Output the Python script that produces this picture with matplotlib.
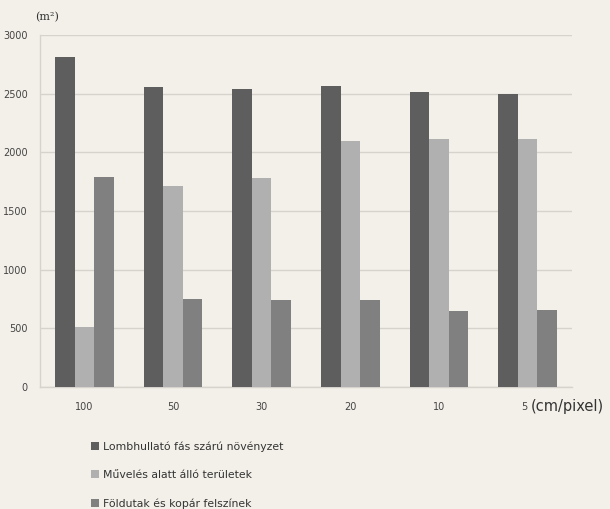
import matplotlib
matplotlib.use("Agg")
import matplotlib.pyplot as plt
import numpy as np
from matplotlib.patches import Patch

categories = ["100", "50", "30", "20", "10", "5"]
series_names = ["Lombhullató fás szárú növényzet",
                "Művelés alatt álló területek",
                "Földutak és kopár felszínek"]
lombhullato = [2810, 2560, 2540, 2565, 2510, 2500]
muveles = [510, 1710, 1780, 2100, 2110, 2110]
foldutak = [1790, 748, 740, 742, 645, 652]
yticks = [0, 500, 1000, 1500, 2000, 2500, 3000]

colors = ["#5e5e5e", "#b0b0b0", "#808080"]
bg = "#f3f0e9"

fig = plt.figure(figsize=(6.10, 5.09), dpi=100, facecolor=bg)
ax = fig.add_axes([40/610, 1-387/509, (572-40)/610, (387-35)/509], facecolor=bg)

x = np.arange(len(categories))
w = 0.22
for i, (vals, c) in enumerate(zip([lombhullato, muveles, foldutak], colors)):
    ax.bar(x + (i-1)*w, vals, width=w, color=c, zorder=3, linewidth=0)

ax.set_xlim(-0.5, len(categories)-0.5)
ax.set_ylim(0, 3000)
ax.set_yticks(yticks)
ax.set_yticklabels([str(v) for v in yticks])
ax.set_xticks(x)
ax.set_xticklabels(categories)
ax.tick_params(axis="both", length=0, labelsize=7, labelcolor="#444444", pad=9)
ax.tick_params(axis="x", pad=11)
ax.get_xticklabels()[-1].set_horizontalalignment("right")
ax.grid(axis="y", color="#d6d3cc", linewidth=1, zorder=0)
for s in ["top", "right"]:
    ax.spines[s].set_visible(False)
for s in ["left", "bottom"]:
    ax.spines[s].set_color("#d6d3cc")
    ax.spines[s].set_linewidth(1)

fig.text(35/610, 1-17/509, "(m²)", fontsize=8, family="DejaVu Serif", color="#333333", va="center", ha="left")
fig.text(531/610, 1-407/509, "(cm/pixel)", fontsize=10.5, color="#333333", va="center", ha="left")

handles = [Patch(facecolor=c, edgecolor="none") for c in colors]
leg = fig.legend(handles, series_names, loc="upper left", bbox_to_anchor=(87/610, 1-437/509),
                 frameon=False, fontsize=7.8, labelspacing=1.68, handlelength=0.7, handleheight=0.7,
                 handletextpad=0.35, borderaxespad=0)
for t in leg.get_texts():
    t.set_color("#333333")

fig.savefig("out.png", dpi=100, facecolor=bg)
